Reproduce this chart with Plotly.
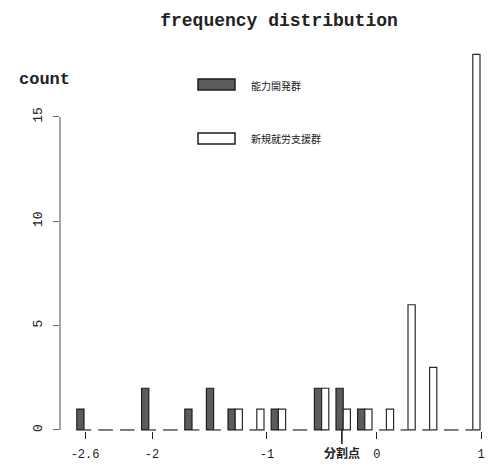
import plotly.graph_objects as go

# Histogram bins (width 0.2) and the counts of each group per bin
bins = ["-2.6", "-2.4", "-2.2", "-2.0", "-1.8", "-1.6", "-1.4", "-1.2", "-1.0",
        "-0.8", "-0.6", "-0.4", "-0.2", "0.0", "0.2", "0.4", "0.6", "0.8", "1.0"]
group_a = [1, 0, 0, 2, 0, 1, 2, 1, 0, 1, 0, 2, 2, 1, 0, 0, 0, 0, 0]
group_b = [0, 0, 0, 0, 0, 0, 0, 1, 1, 1, 0, 2, 1, 1, 1, 6, 3, 0, 18]
series_names = ["能力開発群", "新規就労支援群"]

x_tick_labels = ["-2.6", "-2", "-1", "<b>分割点</b>", "0", "1"]
y_tick_values = [0, 5, 10, 15]

# where the x labels sit along the bin index axis
x_tick_pos = [0.05, 3.15, 8.47, 11.94, 13.56, 18.38]

W, H = 489, 472
L, R, T, B = 60, 0, 40, 41
plot_w = W - L - R
plot_h = H - T - B

MONO = "Liberation Mono, DejaVu Sans Mono, monospace"
CJK = "Noto Sans CJK JP, Noto Sans CJK SC, sans-serif"

idx = list(range(len(bins)))
bar_w = 1 / 3

fig = go.Figure()
fig.add_trace(go.Bar(
    x=idx, y=group_a, name=series_names[0], customdata=bins,
    marker=dict(color="#5c5c5c", line=dict(color="#1e1e1e", width=1.2)),
    hovertemplate="%{customdata}: %{y}<extra></extra>",
))
fig.add_trace(go.Bar(
    x=idx, y=group_b, name=series_names[1], customdata=bins,
    marker=dict(color="#ffffff", line=dict(color="#2a2a2a", width=1.2)),
    hovertemplate="%{customdata}: %{y}<extra></extra>",
))

# empty bins are drawn as a flat outline on the baseline
seg_x, seg_y = [], []
for i in idx:
    if group_a[i] == 0:
        seg_x += [i - bar_w, i, None]
        seg_y += [0, 0, None]
    if group_b[i] == 0:
        seg_x += [i, i + bar_w, None]
        seg_y += [0, 0, None]
fig.add_trace(go.Scatter(x=seg_x, y=seg_y, mode="lines",
                         line=dict(color="#808080", width=1.3),
                         hoverinfo="skip"))

def px_x(p):
    return (p - L) / plot_w

def px_y(p):
    return (H - B - p) / plot_h

shapes = [
    # y axis line spanning only the labelled range
    dict(type="line", xref="paper", yref="y", x0=0, x1=0, y0=0, y1=15,
         line=dict(color="#6a6a6a", width=1.2)),
    # longer tick marking the split point
    dict(type="line", xref="x", yref="paper", x0=x_tick_pos[3], x1=x_tick_pos[3],
         y0=px_y(430), y1=px_y(444), line=dict(color="#222", width=1.6)),
    # legend keys
    dict(type="rect", xref="paper", yref="paper",
         x0=px_x(198), x1=px_x(235), y0=px_y(90), y1=px_y(79),
         fillcolor="#5c5c5c", line=dict(color="#1e1e1e", width=1.5)),
    dict(type="rect", xref="paper", yref="paper",
         x0=px_x(198), x1=px_x(235), y0=px_y(144), y1=px_y(133),
         fillcolor="#ffffff", line=dict(color="#1e1e1e", width=1.5)),
]

annotations = [
    dict(text=series_names[0], xref="paper", yref="paper", x=px_x(249), y=px_y(85),
         xanchor="left", yanchor="middle", showarrow=False,
         font=dict(family=CJK, size=10, color="#222")),
    dict(text=series_names[1], xref="paper", yref="paper", x=px_x(249), y=px_y(138),
         xanchor="left", yanchor="middle", showarrow=False,
         font=dict(family=CJK, size=10, color="#222")),
    dict(text="<b>count</b>", xref="paper", yref="paper", x=px_x(44), y=px_y(79),
         xanchor="center", yanchor="middle", showarrow=False,
         font=dict(family=MONO, size=17, color="#222")),
]

fig.update_layout(
    width=W, height=H,
    margin=dict(l=L, r=R, t=T, b=B),
    paper_bgcolor="white", plot_bgcolor="white",
    barmode="group", bargap=1 / 3, bargroupgap=0,
    showlegend=False,
    title=dict(text="<b>frequency distribution</b>", x=279 / W, xanchor="center",
               xref="container", yref="container", y=1 - 20 / H, yanchor="middle",
               font=dict(family=MONO, size=18, color="#222")),
    shapes=shapes, annotations=annotations,
    xaxis=dict(range=[(L - 84) / 21.6, (W - 84) / 21.6], showgrid=False, zeroline=False,
               showline=False, tickmode="array", tickvals=x_tick_pos, ticktext=x_tick_labels,
               ticks="outside", ticklen=7, tickwidth=1.3, tickcolor="#222",
               ticklabelstandoff=5,
               tickfont=dict(family=MONO + ", " + CJK, size=12, color="#222")),
    yaxis=dict(range=[-0.05, 18.69], showgrid=False, zeroline=False, showline=False,
               tickmode="array", tickvals=y_tick_values, tickangle=-90,
               ticks="outside", ticklen=6, tickwidth=1.2, tickcolor="#6a6a6a",
               ticklabelstandoff=6,
               tickfont=dict(family=MONO, size=13, color="#222")),
)

fig.write_html("out.html")
